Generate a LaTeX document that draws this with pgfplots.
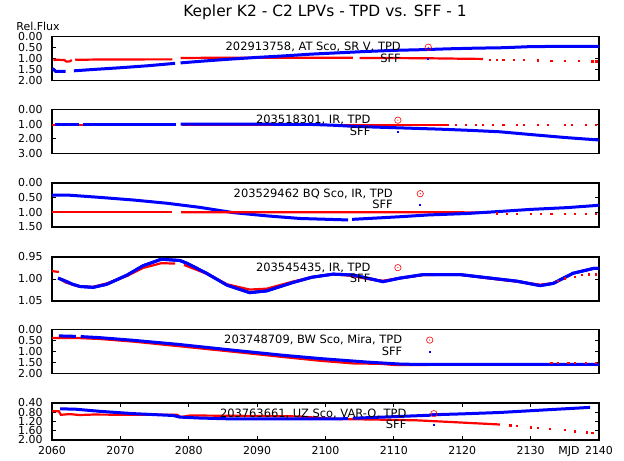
\documentclass[border=0pt]{standalone}
\usepackage{pgfplots}
\pgfplotsset{compat=1.18}
\usepackage{fontspec}
\setmainfont{DejaVu Sans}

\definecolor{tpdred}{RGB}{255,0,0}
\definecolor{sffblue}{RGB}{0,0,255}

\pgfplotsset{
  panel/.style={
    anchor=south west, scale only axis, width=547bp, height=44bp,
    xmin=2060, xmax=2140,
    % flux axis points downwards
    y coord trafo/.code={\pgfmathparse{-(##1)}},
    y coord inv trafo/.code={\pgfmathparse{-(##1)}},
    axis line style={line width=1.2bp},
    tick align=inside, major tick length=4bp,
    tick style={black, line width=0.8bp},
    xtick=\empty,
    /pgf/number format/assume math mode=true,
    yticklabel={\pgfmathparse{abs(\tick)}\pgfmathprintnumber[fixed,fixed zerofill,precision=2]{\pgfmathresult}},
    ticklabel style={font=\fontsize{11}{11}\selectfont},
    yticklabel style={xshift=-6bp},
    legend plot pos=right, legend cell align=right,
    legend style={at={(0.505,1)}, anchor=north, yshift=-3bp, draw=none, fill=none,
      font=\fontsize{11.5}{11.5}\selectfont, row sep=-1.5bp, inner sep=1bp,
      nodes={inner sep=1.5bp}},
  },
  tpd/.style={tpdred, line width=2.2bp,
    legend image code/.code={
      \path[draw=none, fill=none] (0bp,0bp) -- (30bp,0bp);
      \draw[tpdred, line width=0.6bp, fill=none] (26bp,0bp) circle (3.2bp);
      \fill[tpdred, draw=none] (26bp,0bp) circle (0.6bp);}},
  sff/.style={sffblue, line width=3bp,
    legend image code/.code={
      \path[draw=none, fill=none] (0bp,0bp) -- (30bp,0bp);
      \fill[sffblue, draw=none] (25bp,-1bp) rectangle (27bp,1bp);}},
  tpdseg/.style={tpd, forget plot},
  sffseg/.style={sff, forget plot},
  tpddots/.style={tpdred, only marks, mark=square*, mark size=0.6bp, forget plot},
}

\begin{document}
\begin{tikzpicture}
\useasboundingbox (0,0) rectangle (624bp,461bp);

\node at (325bp,449bp) {\fontsize{15.5}{15.5}\selectfont Kepler K2 - C2 LPVs - TPD vs. SFF - 1};
\node at (38bp,435bp) {\fontsize{11}{11}\selectfont Rel.Flux};

% panel 1
\begin{axis}[panel, at={(52bp,380.5bp)}, ymin=2, ymax=0, ytick={0,0.5,1,1.5,2}]
\addplot[tpd] coordinates {
 (2060.2,1.06)(2061,1.06)(2061.8,1.07)(2062.1,1.14)(2062.6,1.13)(2062.9,1.07)};
\addlegendentry{202913758, AT Sco, SR V, TPD}
\addplot[sff] coordinates {
 (2060.1,1.45)(2060.5,1.58)(2062,1.58)};
\addlegendentry{SFF}
\addplot[tpdseg] coordinates {(2063.4,1.06)(2066,1.05)(2070,1.05)(2074,1.04)(2077.6,1.04)};
\addplot[tpdseg] coordinates {
 (2078.8,0.98)(2082,0.97)(2086,0.97)(2090,0.97)(2095,0.97)(2100,0.97)(2104,0.97)};
\addplot[tpdseg] coordinates {(2105,0.98)(2110,0.98)(2115,0.99)(2120,1.01)(2123,1.02)};
\addplot[sffseg] coordinates {(2063.2,1.56)(2066,1.50)(2070,1.42)(2074,1.33)(2078,1.22)};
\addplot[sffseg] coordinates {
 (2078.8,1.20)(2082,1.12)(2086,1.03)(2090,0.95)(2094,0.88)(2098,0.80)(2102,0.74)
 (2106,0.68)(2110,0.63)(2114,0.60)(2118,0.56)(2122,0.53)(2126,0.51)(2130,0.46)
 (2134,0.45)(2140,0.45)};
\addplot[tpddots] coordinates {
 (2124,1.04)(2125,1.04)(2126,1.05)(2127.5,1.06)(2129,1.07)(2131,1.08)(2133,1.09)
 (2135,1.10)(2137,1.11)(2139,1.12)(2139.6,1.12)};
\end{axis}

% panel 2
\begin{axis}[panel, at={(52bp,307.5bp)}, ymin=3, ymax=0, ytick={0,1,2,3}]
\addplot[tpd] coordinates {(2060,1.04)(2078,1.04)};
\addlegendentry{203518301, IR, TPD}
\addplot[sff] coordinates {(2060.5,1.00)(2063.9,1.00)};
\addlegendentry{SFF}
\addplot[tpdseg] coordinates {(2079,1.04)(2100,1.04)(2110,1.04)(2118,1.04)};
\addplot[sffseg] coordinates {(2064.5,1.00)(2078.2,1.00)};
\addplot[sffseg] coordinates {
 (2078.8,1.00)(2090,1.00)(2098,1.02)(2101,1.07)(2104.6,1.16)(2110,1.24)(2116.7,1.34)
 (2121,1.42)(2125.5,1.52)(2130.3,1.72)(2135.3,1.92)(2140,2.08)};
\addplot[tpddots] coordinates {
 (2119,1.04)(2120.5,1.04)(2122,1.04)(2123,1.04)(2124.5,1.04)(2126,1.04)(2128,1.04)
 (2129,1.04)(2131,1.04)(2132.5,1.04)(2135,1.04)(2136,1.04)(2138,1.04)(2139.5,1.04)};
\end{axis}

% panel 3
\begin{axis}[panel, at={(52bp,234bp)}, ymin=1.5, ymax=0, ytick={0,0.5,1,1.5}]
\addplot[tpd] coordinates {(2060,1.0)(2077.5,1.0)};
\addlegendentry{203529462 BQ Sco, IR, TPD}
\addplot[sff] coordinates {
 (2060,0.41)(2062.2,0.41)(2067,0.49)(2071.9,0.58)(2076.8,0.69)(2081.6,0.83)(2086.5,1.01)
 (2091.4,1.12)(2096.3,1.21)(2103.3,1.26)};
\addlegendentry{SFF}
\addplot[tpdseg] coordinates {(2078.9,1.0)(2100,1.0)(2110,1.0)(2120,1.0)(2124,1.01)};
\addplot[sffseg] coordinates {
 (2103.9,1.24)(2110.9,1.15)(2115,1.09)(2120.7,1.04)(2125.5,0.97)(2130,0.90)(2135.3,0.84)
 (2140,0.76)};
\addplot[tpddots] coordinates {
 (2125,1.03)(2126.5,1.04)(2128,1.04)(2130,1.05)(2131.5,1.05)(2133,1.05)(2135,1.05)
 (2136.5,1.06)(2138,1.06)(2139.5,1.06)};
\end{axis}

% panel 4
\begin{axis}[panel, at={(52bp,160bp)}, ymin=1.05, ymax=0.95, ytick={0.95,1,1.05}]
\addplot[tpd] coordinates {(2060,0.982)(2061,0.984)};
\addlegendentry{203545435, IR, TPD}
\addplot[sff] coordinates {
 (2060.9,0.998)(2062,1.005)(2063,1.012)(2064.1,1.017)(2066,1.019)(2068,1.012)(2071,0.991)
 (2073.3,0.970)(2076,0.955)(2078.7,0.958)(2079.7,0.964)(2082.6,0.987)(2085.6,1.014)
 (2088.9,1.031)(2091.4,1.027)(2095.2,1.008)(2098,0.996)(2101.1,0.989)(2104,0.991)
 (2106.1,0.998)(2108.4,1.006)(2110.9,0.998)(2114.3,0.990)(2119.7,0.990)(2123,0.996)
 (2128,1.005)(2131.4,1.015)(2133.3,1.010)(2136.2,0.987)(2139.2,0.976)(2140,0.976)};
\addlegendentry{SFF}
\addplot[tpdseg] coordinates {
 (2061.2,1.000)(2062,1.008)(2064,1.017)(2066,1.018)(2068,1.010)(2071,0.993)(2073.3,0.975)
 (2076,0.964)(2078,0.965)};
\addplot[tpdseg] coordinates {
 (2079.3,0.968)(2082.6,0.988)(2085.6,1.012)(2088.9,1.024)(2091.4,1.022)(2095.2,1.006)
 (2098,0.996)(2101.1,0.989)(2104,0.993)(2106.1,1.000)(2108.4,1.004)(2110.9,0.998)
 (2114.3,0.991)(2119.7,0.990)(2123,0.997)(2128,1.006)(2131.4,1.013)(2133,1.010)};
\addplot[tpddots] coordinates {
 (2134,1.004)(2135,0.998)(2136.5,0.995)(2137.5,0.990)(2138.5,0.989)(2139.5,0.989)};
% SFF drawn again on top of the TPD segments
\addplot[sffseg] coordinates {
 (2060.9,0.998)(2062,1.005)(2063,1.012)(2064.1,1.017)(2066,1.019)(2068,1.012)(2071,0.991)
 (2073.3,0.970)(2076,0.955)(2078.7,0.958)(2079.7,0.964)(2082.6,0.987)(2085.6,1.014)
 (2088.9,1.031)(2091.4,1.027)(2095.2,1.008)(2098,0.996)(2101.1,0.989)(2104,0.991)
 (2106.1,0.998)(2108.4,1.006)(2110.9,0.998)(2114.3,0.990)(2119.7,0.990)(2123,0.996)
 (2128,1.005)(2131.4,1.015)(2133.3,1.010)(2136.2,0.987)(2139.2,0.976)(2140,0.976)};
\end{axis}

% panel 5
\begin{axis}[panel, at={(52bp,87.7bp)}, ymin=2, ymax=0, ytick={0,0.5,1,1.5,2}]
\addplot[tpd] coordinates {
 (2060,0.40)(2064,0.40)(2067,0.44)(2071.9,0.56)(2078.3,0.76)(2086.5,1.02)(2093.8,1.26)
 (2099.2,1.43)(2104,1.55)(2108,1.57)(2110,1.62)(2115,1.62)};
\addlegendentry{203748709, BW Sco, Mira, TPD}
\addplot[sff] coordinates {(2061,0.30)(2063.5,0.32)};
\addlegendentry{SFF}
\addplot[sffseg] coordinates {
 (2064.2,0.33)(2067,0.38)(2071.9,0.50)(2078.3,0.68)(2086.5,0.95)(2093.8,1.18)(2099.2,1.33)
 (2106.1,1.49)(2110.9,1.58)(2114,1.60)(2125,1.60)(2140,1.60)};
\addplot[tpddots] coordinates {
 (2133,1.53)(2134,1.53)(2135.5,1.53)(2136.5,1.53)(2138,1.53)(2139.5,1.53)};
\end{axis}

% panel 6
\begin{axis}[panel, at={(52bp,21bp)}, height=37bp, ymin=2, ymax=0.4, ytick={0.4,0.8,1.2,1.6,2},
  xtick={2060,2070,...,2140}, xtick pos=both,
  xticklabels={2060,2070,2080,2090,2100,2110,2120,2130,2140},
  xticklabel style={yshift=-3bp}]
\addplot[tpd] coordinates {
 (2060,0.76)(2061,0.76)(2061.3,0.91)(2062.6,0.88)(2064,0.92)(2066,0.90)(2071.9,0.91)
 (2078.3,0.91)(2078.8,1.01)(2080.2,0.94)(2090,0.96)(2096,0.98)(2101,1.08)(2103.6,1.10)
 (2108,1.12)(2113.4,1.15)(2118.2,1.22)(2125.5,1.33)};
\addlegendentry{203763661, UZ Sco, VAR-O, TPD}
\addplot[sff] coordinates {
 (2061.2,0.65)(2063.5,0.67)(2067,0.76)(2071.9,0.86)(2077.7,0.94)(2078.7,1.01)(2081.6,1.05)
 (2086.5,1.09)(2096,1.09)(2103.3,1.08)};
\addlegendentry{SFF}
\addplot[sffseg] coordinates {
 (2104,1.06)(2110.9,0.98)(2115.2,0.93)(2115.4,0.91)(2120,0.87)(2125.5,0.81)(2132,0.70)
 (2138.7,0.59)};
\addplot[tpddots] coordinates {
 (2127,1.36)(2128,1.38)(2130,1.45)(2131,1.47)(2132.8,1.51)(2135,1.57)(2136.5,1.62)
 (2138.2,1.66)(2139,1.67)};
\end{axis}

\node[anchor=east] at (583bp,9bp) {\fontsize{11}{11}\selectfont MJD};
\end{tikzpicture}
\end{document}
